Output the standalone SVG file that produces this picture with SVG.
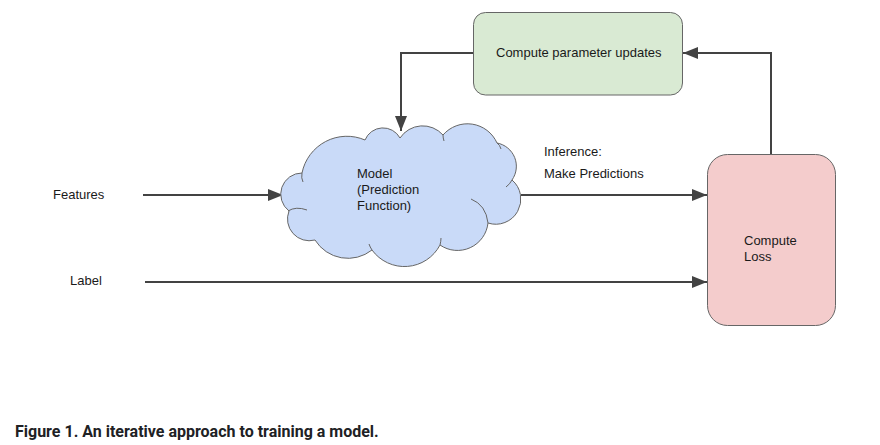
<svg xmlns="http://www.w3.org/2000/svg" width="880" height="445" viewBox="0 0 880 445">
<style>
.t{font-family:"Liberation Sans",Arial,sans-serif;font-size:13px;fill:#1a1a1a}
.cap{font-family:Roboto,"Liberation Sans",sans-serif;font-size:16px;font-weight:bold;fill:#202124}
.c{fill:none;stroke:#434343;stroke-width:2}
.box{stroke:#666;stroke-width:1}
.cl{fill:#c9daf8;stroke:#666;stroke-width:1}
.in{fill:none;stroke:#666;stroke-width:1}
</style>
<defs>
<marker id="ah" markerUnits="userSpaceOnUse" markerWidth="16" markerHeight="12" refX="15" refY="6" orient="auto">
<path d="M0,0 L15,6 L0,12 Z" fill="#434343"/>
</marker>
</defs>
<rect x="0" y="0" width="880" height="445" fill="#fff"/>
<g id="connectors">
<path class="c" d="M143,195 H283" marker-end="url(#ah)"/>
<path class="c" d="M145,282 H707" marker-end="url(#ah)"/>
<path class="c" d="M521,195 H707" marker-end="url(#ah)"/>
<path class="c" d="M771,154 V53 H683" marker-end="url(#ah)"/>
<path class="c" d="M473,53 H401 V131" marker-end="url(#ah)"/>
</g>
<g id="update">
<rect class="box" x="473.5" y="12.5" width="209" height="82.5" rx="12" fill="#d9ead3"/>
<text class="t" x="496" y="57">Compute parameter updates</text>
</g>
<g id="model">
<path class="cl" d="M289,211 A21.2,21.2 0 0 1 302,173 A45.8,45.8 0 0 1 365,140 A19.4,19.4 0 0 1 400,138 A27.2,27.2 0 0 1 443,135 A32.3,32.3 0 0 1 497,143 A23.7,23.7 0 0 1 512,180 A25.1,25.1 0 0 1 488,223 A30.7,30.7 0 0 1 440,245 A40.1,40.1 0 0 1 372,250 A38.8,38.8 0 0 1 315,240 A21.8,21.8 0 0 1 289,211 Z"/>
<path class="in" d="M288,211 Q296,206 307,210 M471,199 Q486,205 488,223 M440,245 Q441,241 441,238 M372,250 Q370,247 369,244 M512,180 Q510,184 506,187 M497,143 Q500,145 501,149 M443,135 Q443,138 444,141 M302,173 Q301,178 303,182"/>
<text class="t" x="357" y="178">Model</text>
<text class="t" x="357" y="194">(Prediction</text>
<text class="t" x="357" y="210">Function)</text>
</g>
<g id="loss">
<rect class="box" x="707.5" y="154.5" width="128" height="171" rx="20" fill="#f4cccc"/>
<text class="t" x="744" y="245">Compute</text>
<text class="t" x="744" y="261">Loss</text>
</g>
<g id="labels">
<text class="t" x="53" y="199">Features</text>
<text class="t" x="70" y="285">Label</text>
<text class="t" x="544" y="156">Inference:</text>
<text class="t" x="544" y="178">Make Predictions</text>
</g>
<text class="cap" x="15" y="437">Figure 1. An iterative approach to training a model.</text>
</svg>
